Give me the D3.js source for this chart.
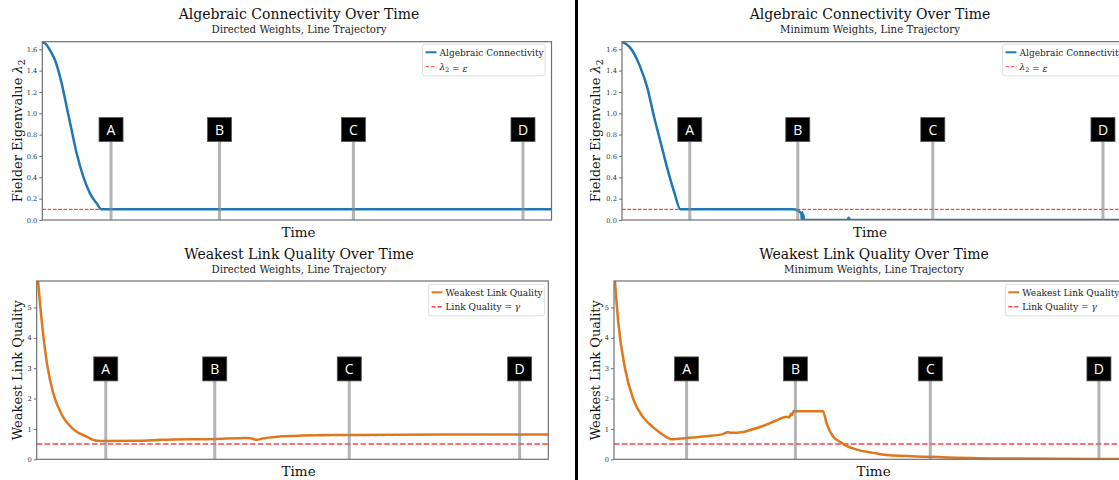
<!DOCTYPE html>
<html>
<head>
<meta charset="utf-8">
<script src="https://cdn.jsdelivr.net/npm/d3@7"></script>
<style>
  body { margin: 0; background: #fff; }
  svg { display: block; }
  text { font-family: "DejaVu Serif", serif; }
</style>
</head>
<body>
<svg id="chart" width="1119" height="480"></svg>
<script>
// event markers, same labels in every panel
const markerLabels = ["A", "B", "C", "D"];
const markersDirected = [13.5, 34.8, 61.1, 94.4];
const markersMinLambda = [13.3, 34.5, 61.0, 94.4];
const markersMinLink = [14.2, 35.5, 61.9, 94.9];

const lambdaTicks = [0, 0.2, 0.4, 0.6, 0.8, 1.0, 1.2, 1.4, 1.6];
const linkTicks = [0, 1, 2, 3, 4, 5];

const epsilon = 0.1;
const gamma = 0.5;

// [time, value]
const directedLambda = [
  [0, 1.67], [0.86, 1.64], [1.51, 1.59], [2.49, 1.50], [3.81, 1.28], [4.79, 1.06],
  [5.77, 0.84], [6.75, 0.625], [8.05, 0.406], [9.36, 0.25], [10.68, 0.156], [11.66, 0.10],
  [40, 0.1], [70, 0.1], [100, 0.1]
];

const minLambda = [
  [0, 1.67], [0.8, 1.65], [1.51, 1.62], [3.53, 1.44], [4.91, 1.25], [6.28, 0.97],
  [7.62, 0.72], [8.97, 0.47], [10.32, 0.25], [11.46, 0.10], [33.6, 0.10], [34.4, 0.09],
  [34.9, 0.075], [35.2, 0.06], [35.3, 0.0], [35.4, 0.07], [35.5, 0.0], [35.6, 0.05],
  [35.7, 0.0], [44.2, 0.0], [44.5, 0.02], [44.8, 0.0], [100, 0.0]
];

const directedLink = [
  [0, 6.4], [0.65, 5.12], [1.23, 4.17], [2.01, 3.15], [3.19, 2.2], [5.14, 1.40],
  [7.10, 1.0], [9.83, 0.74], [11.79, 0.61], [13.6, 0.60], [20, 0.61], [24.3, 0.64],
  [34.85, 0.67], [40.9, 0.70], [41.7, 0.695], [43.1, 0.64], [44.0, 0.68], [47.4, 0.75],
  [52, 0.78], [61.2, 0.80], [80, 0.82], [100, 0.82]
];

const minLink = [
  [0, 6.3], [0.53, 5.1], [0.84, 4.5], [2.15, 3.0], [3.77, 1.98], [5.73, 1.38],
  [7.68, 1.05], [9.64, 0.80], [11.28, 0.66], [14.2, 0.70], [18, 0.76], [21.3, 0.83],
  [22.3, 0.89], [22.9, 0.87], [25.3, 0.90], [27.2, 0.99], [29.5, 1.12], [31.5, 1.26],
  [33.8, 1.40], [34.3, 1.38], [34.6, 1.50], [34.8, 1.45], [35.2, 1.60], [35.6, 1.58],
  [40.9, 1.58], [41.6, 1.18], [42.9, 0.74], [44.2, 0.58], [45.5, 0.44], [47.5, 0.32],
  [50.5, 0.22], [53.4, 0.14], [61.5, 0.085], [73.9, 0.03], [94.0, 0.01], [100, 0.01]
];

const svg = d3.select("#chart");
svg.append("rect").attr("width", 1119).attr("height", 480).attr("fill", "#fff");

const panels = [
  { id: "tl", x0: 42.3, x1: 551.5, y0: 41.7, y1: 220, yMax: 1.671, ticks: lambdaTicks, fmt: ".1f",
    data: directedLambda, color: "#1f77b4", thr: epsilon, thin: true, markers: markersDirected,
    title: "Algebraic Connectivity Over Time", subtitle: "Directed Weights, Line Trajectory",
    titleX: 299, titleY: 19.3, labelX: 22, timeX: 298.5, timeY: 236.5,
    ylabel: ["Fielder Eigenvalue ", "λ", "2"], legend: ["Algebraic Connectivity", ["λ", "2", " = ", "ε"]] },
  { id: "bl", x0: 36.7, x1: 548.3, y0: 281, y1: 459.3, yMax: 5.87, ticks: linkTicks, fmt: "d",
    data: directedLink, color: "#e0771c", thr: gamma, thin: false, markers: markersDirected,
    title: "Weakest Link Quality Over Time", subtitle: "Directed Weights, Line Trajectory",
    titleX: 299, titleY: 258.8, labelX: 22, timeX: 298.6, timeY: 476,
    ylabel: ["Weakest Link Quality"], legend: ["Weakest Link Quality", ["Link Quality = ", "γ"]] },
  { id: "tr", x0: 622, x1: 1131.5, y0: 41.7, y1: 220, yMax: 1.671, ticks: lambdaTicks, fmt: ".1f",
    data: minLambda, color: "#1f77b4", thr: epsilon, thin: true, markers: markersMinLambda,
    title: "Algebraic Connectivity Over Time", subtitle: "Minimum Weights, Line Trajectory",
    titleX: 870, titleY: 19.3, labelX: 600, timeX: 870, timeY: 236.5,
    ylabel: ["Fielder Eigenvalue ", "λ", "2"], legend: ["Algebraic Connectivity", ["λ", "2", " = ", "ε"]] },
  { id: "br", x0: 614, x1: 1125, y0: 281, y1: 459.3, yMax: 5.87, ticks: linkTicks, fmt: "d",
    data: minLink, color: "#e0771c", thr: gamma, thin: false, markers: markersMinLink,
    title: "Weakest Link Quality Over Time", subtitle: "Minimum Weights, Line Trajectory",
    titleX: 874, titleY: 258.5, labelX: 600, timeX: 873.6, timeY: 476,
    ylabel: ["Weakest Link Quality"], legend: ["Weakest Link Quality", ["Link Quality = ", "γ"]] }
];

panels.forEach(drawPanel);

// black divider between the two columns
svg.append("line")
  .attr("x1", 576.5).attr("x2", 576.5)
  .attr("y1", 0).attr("y2", 480)
  .attr("stroke", "#000")
  .attr("stroke-width", 3);

// writes "λ", "2" style pieces: greek letters italic, lone digits as subscripts
function mathText(sel, parts, size) {
  parts.forEach(p => {
    const t = sel.append("tspan").text(p);
    if (/^[λεγ]$/.test(p)) t.style("font-style", "italic");
    if (/^\d$/.test(p)) {
      t.style("font-size", (size * 0.7) + "px").attr("dy", size * 0.22);
    }
  });
}

function drawPanel(p) {
  const x = d3.scaleLinear().domain([0, 100]).range([p.x0, p.x1]);
  const y = d3.scaleLinear().domain([0, p.yMax]).range([p.y1, p.y0]);

  const g = svg.append("g");

  g.append("clipPath").attr("id", "clip-" + p.id)
    .append("rect")
    .attr("x", p.x0).attr("y", p.y0)
    .attr("width", p.x1 - p.x0).attr("height", p.y1 - p.y0);

  const plot = g.append("g").attr("clip-path", `url(#clip-${p.id})`);

  // threshold
  plot.append("line")
    .attr("x1", p.x0).attr("x2", p.x1)
    .attr("y1", y(p.thr)).attr("y2", y(p.thr))
    .attr("stroke", "#ff0000")
    .attr("stroke-opacity", p.thin ? 0.9 : 0.75)
    .attr("stroke-width", p.thin ? 1 : 1.5)
    .attr("stroke-dasharray", p.thin ? "3.7,1.6" : "5.5,2.4");

  const line = d3.line()
    .x(d => x(d[0]))
    .y(d => y(d[1]))
    .curve(d3.curveMonotoneX);

  plot.append("path")
    .datum(p.data)
    .attr("fill", "none")
    .attr("stroke", p.color)
    .attr("stroke-width", 2.5)
    .attr("stroke-linejoin", "round")
    .attr("d", line);

  // event markers
  const boxY = p.y1 - 0.507 * (p.y1 - p.y0);
  p.markers.forEach((t, i) => {
    plot.append("line")
      .attr("x1", x(t)).attr("x2", x(t))
      .attr("y1", boxY).attr("y2", p.y1)
      .attr("stroke", "#8c8c8c")
      .attr("stroke-opacity", 0.65)
      .attr("stroke-width", 3);
    plot.append("rect")
      .attr("x", x(t) - 12).attr("y", boxY - 12)
      .attr("width", 24).attr("height", 24)
      .attr("fill", "#000")
      .attr("stroke", "#555")
      .attr("stroke-width", 0.8);
    plot.append("text")
      .attr("x", x(t)).attr("y", boxY + 5)
      .attr("text-anchor", "middle")
      .style("font-family", "'Open Sans', sans-serif")
      .style("font-size", "14px")
      .attr("fill", "#fff")
      .text(markerLabels[i]);
  });

  // spines
  g.append("rect")
    .attr("x", p.x0).attr("y", p.y0)
    .attr("width", p.x1 - p.x0).attr("height", p.y1 - p.y0)
    .attr("fill", "none")
    .attr("stroke", "#707070")
    .attr("stroke-width", 1.2);

  const yAxis = g.append("g")
    .attr("transform", `translate(${p.x0},0)`)
    .call(d3.axisLeft(y).tickValues(p.ticks).tickFormat(d3.format(p.fmt)).tickSize(3).tickPadding(2));
  yAxis.select(".domain").remove();
  yAxis.selectAll("line").attr("stroke", "#707070");
  yAxis.selectAll("text")
    .attr("fill", "#333")
    .style("font-family", "'DejaVu Serif', serif")
    .style("font-size", "6.7px");

  // legend
  const lg = g.append("g");
  const fs = 9;
  const boxW = p.thin ? 122.5 : 116;
  const lx = p.x1 - (p.thin ? 6.5 : 3.7) - boxW;
  const ly = p.y0 + (p.thin ? 2.6 : 3.3);
  lg.append("rect")
    .attr("x", lx).attr("y", ly)
    .attr("width", boxW).attr("height", 31.5)
    .attr("rx", 2)
    .attr("fill", "#fff").attr("fill-opacity", 0.85)
    .attr("stroke", "#d6d6d6").attr("stroke-width", 0.8);
  lg.append("line")
    .attr("x1", lx + 3).attr("x2", lx + 14)
    .attr("y1", ly + 8).attr("y2", ly + 8)
    .attr("stroke", p.color).attr("stroke-width", 2);
  lg.append("line")
    .attr("x1", lx + 3).attr("x2", lx + 14)
    .attr("y1", ly + 22.4).attr("y2", ly + 22.4)
    .attr("stroke", "#ff0000")
    .attr("stroke-opacity", 0.75)
    .attr("stroke-width", p.thin ? 1 : 1.5)
    .attr("stroke-dasharray", p.thin ? "3.7,1.6" : "4,2");
  lg.append("text")
    .attr("x", lx + 17).attr("y", ly + 11.2)
    .style("font-size", fs + "px")
    .attr("fill", "#222")
    .text(p.legend[0]);
  const l2 = lg.append("text")
    .attr("x", lx + 17).attr("y", ly + 25.6)
    .style("font-size", fs + "px")
    .attr("fill", "#222");
  mathText(l2, p.legend[1], fs);

  // titles and labels
  g.append("text")
    .attr("x", p.titleX).attr("y", p.titleY)
    .attr("text-anchor", "middle")
    .style("font-size", "14px")
    .attr("fill", "#111")
    .text(p.title);
  g.append("text")
    .attr("x", p.titleX).attr("y", p.titleY + 14)
    .attr("text-anchor", "middle")
    .style("font-size", "10.2px")
    .attr("fill", "#222")
    .text(p.subtitle);
  g.append("text")
    .attr("x", p.timeX).attr("y", p.timeY)
    .attr("text-anchor", "middle")
    .style("font-size", "13.5px")
    .attr("fill", "#111")
    .text("Time");

  const yl = g.append("text")
    .attr("text-anchor", "middle")
    .attr("transform", `translate(${p.labelX},${(p.y0 + p.y1) / 2}) rotate(-90)`)
    .style("font-size", "13px")
    .attr("fill", "#111");
  mathText(yl, p.ylabel, 13);
}
</script>
</body>
</html>
